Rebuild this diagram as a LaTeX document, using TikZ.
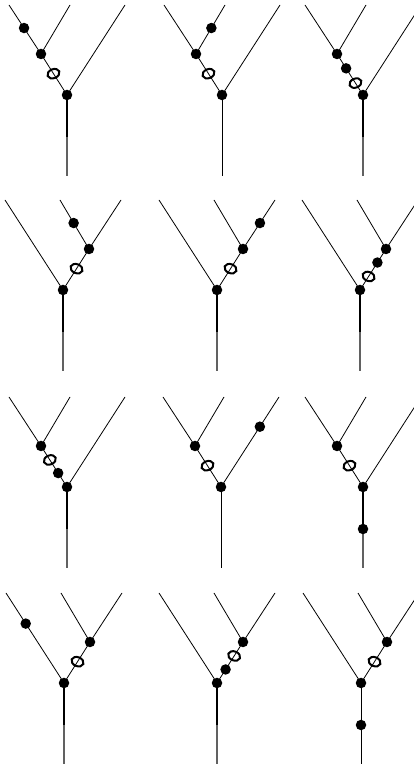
\documentclass[tikz,border=0pt]{standalone}
\usepackage{tikz}
\usetikzlibrary{shapes.geometric}

% tree with the inner vertex on the left (L) or on the right (R)
\newcommand{\treeL}[3]{%
  \begin{scope}[shift={(#2,#3)}]
    \coordinate (#1a) at (-58,90);
    \coordinate (#1b) at (3,90);
    \coordinate (#1c) at (58,90);
    \coordinate (#1m) at (0,-42);
    \coordinate (#1s) at (0,-81);
    \node[dot] (#1r) at (0,0) {};
    \node[dot] (#1i) at (-26,41) {};
  \end{scope}
  \draw[branch] (#1r.center) -- (#1i.center) -- (#1a);
  \draw[branch] (#1i.center) -- (#1b);
  \draw[branch] (#1r.center) -- (#1c);
}
\newcommand{\treeR}[3]{%
  \begin{scope}[shift={(#2,#3)}]
    \coordinate (#1a) at (58,90);
    \coordinate (#1b) at (-3,90);
    \coordinate (#1c) at (-58,90);
    \coordinate (#1m) at (0,-42);
    \coordinate (#1s) at (0,-81);
    \node[dot] (#1r) at (0,0) {};
    \node[dot] (#1i) at (26,41) {};
  \end{scope}
  \draw[branch] (#1r.center) -- (#1i.center) -- (#1a);
  \draw[branch] (#1i.center) -- (#1b);
  \draw[branch] (#1r.center) -- (#1c);
}

\begin{document}
\begin{tikzpicture}[x=1pt, y=1pt,
    branch/.style={line width=0.8pt},
    stemtop/.style={line width=2.2pt},
    stembot/.style={line width=1.2pt, black!62},
    stemplain/.style={line width=0.9pt},
    dot/.style={circle, fill=black, minimum size=10.5pt, inner sep=0pt},
    hole/.style={ellipse, draw, line width=2pt, minimum width=12.5pt, minimum height=9pt, inner sep=0pt},
    holeL/.style={hole, rotate=22},
    holeR/.style={hole, rotate=-22}
]
\useasboundingbox (0,0) rectangle (414,769);
\clip (0,0) rectangle (414,769);

% row 1
\treeL{p1}{67}{674}
\draw[stemtop] (p1r.center) -- (p1m);
\draw[stembot] (p1m) -- (p1s);
\path (p1r.center) -- (p1i.center) node[holeL, pos=.52] (p1h) {};
\path (p1i.center) -- (p1a) node[dot, pos=.53] (p1d) {};

\treeL{p2}{222}{674}
\draw[stemplain] (p2r.center) -- (p2s);
\path (p2r.center) -- (p2i.center) node[holeL, pos=.52] (p2h) {};
\path (p2i.center) -- (p2b) node[dot, pos=.53] (p2d) {};

\treeL{p3}{363}{674}
\draw[stemtop] (p3r.center) -- (p3m);
\draw[stembot] (p3m) -- (p3s);
\path (p3r.center) -- (p3i.center) node[holeL, pos=.29] (p3h) {};
\path (p3r.center) -- (p3i.center) node[dot, pos=.65] (p3d) {};

% row 2
\treeR{p4}{63}{479}
\draw[stemtop] (p4r.center) -- (p4m);
\draw[stembot] (p4m) -- (p4s);
\path (p4r.center) -- (p4i.center) node[holeR, pos=.52] (p4h) {};
\path (p4i.center) -- (p4b) node[dot, pos=.53] (p4d) {};

\treeR{p5}{217}{479}
\draw[stemtop] (p5r.center) -- (p5m);
\draw[stembot] (p5m) -- (p5s);
\path (p5r.center) -- (p5i.center) node[holeR, pos=.52] (p5h) {};
\path (p5i.center) -- (p5a) node[dot, pos=.53] (p5d) {};

\treeR{p6}{360}{479}
\draw[stemtop] (p6r.center) -- (p6m);
\draw[stembot] (p6m) -- (p6s);
\path (p6r.center) -- (p6i.center) node[holeR, pos=.33] (p6h) {};
\path (p6r.center) -- (p6i.center) node[dot, pos=.67] (p6d) {};

% row 3
\treeL{p7}{67}{282}
\draw[stemtop] (p7r.center) -- (p7m);
\draw[stembot] (p7m) -- (p7s);
\path (p7r.center) -- (p7i.center) node[holeL, pos=.66] (p7h) {};
\path (p7r.center) -- (p7i.center) node[dot, pos=.34] (p7d) {};

\treeL{p8}{221}{282}
\draw[stemplain] (p8r.center) -- (p8s);
\path (p8r.center) -- (p8i.center) node[holeL, pos=.52] (p8h) {};
\path (p8r.center) -- (p8c) node[dot, pos=.67] (p8d) {};

\treeL{p9}{363}{282}
\draw[stemtop] (p9r.center) -- (p9m);
\draw[stembot] (p9m) -- (p9s);
\path (p9r.center) -- (p9i.center) node[holeL, pos=.52] (p9h) {};
\node[dot] (p9d) at (p9m) {};

% row 4
\treeR{p10}{64}{86}
\draw[stemtop] (p10r.center) -- (p10m);
\draw[stembot] (p10m) -- (p10s);
\path (p10r.center) -- (p10i.center) node[holeR, pos=.52] (p10h) {};
\path (p10r.center) -- (p10c) node[dot, pos=.66] (p10d) {};

\treeR{p11}{217}{86}
\draw[stemtop] (p11r.center) -- (p11m);
\draw[stembot] (p11m) -- (p11s);
\path (p11r.center) -- (p11i.center) node[holeR, pos=.66] (p11h) {};
\path (p11r.center) -- (p11i.center) node[dot, pos=.33] (p11d) {};

\treeR{p12}{361}{86}
\draw[stemplain] (p12r.center) -- (p12s);
\path (p12r.center) -- (p12i.center) node[holeR, pos=.52] (p12h) {};
\node[dot] (p12d) at (p12m) {};
\end{tikzpicture}
\end{document}
